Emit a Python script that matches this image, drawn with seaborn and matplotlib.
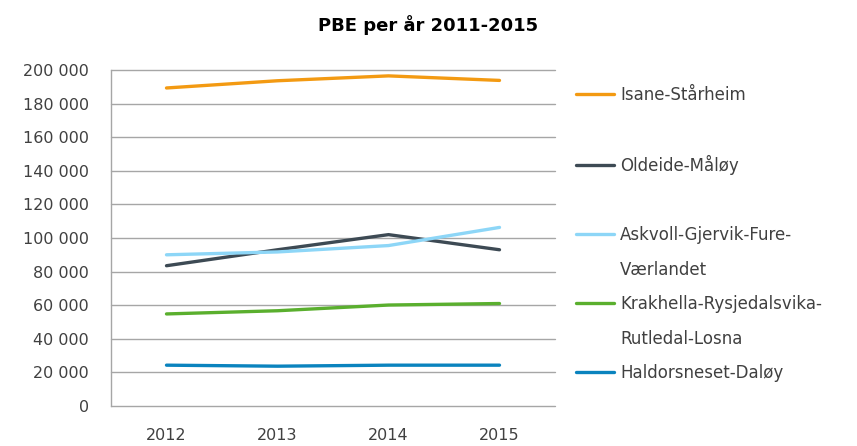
import matplotlib
matplotlib.use("Agg")
import matplotlib.pyplot as plt
import numpy as np
import pandas as pd
import seaborn as sns
from matplotlib.lines import Line2D
from matplotlib.ticker import FuncFormatter

# data
years = [2012, 2013, 2014, 2015]
routes = [
    "Isane-Stårheim",
    "Oldeide-Måløy",
    "Askvoll-Gjervik-Fure-Værlandet",
    "Krakhella-Rysjedalsvika-Rutledal-Losna",
    "Haldorsneset-Daløy",
]
isane = [189300, 193600, 196500, 193800]
oldeide = [83500, 93000, 102000, 93000]
askvoll = [90000, 91700, 95500, 106300]
krakhella = [54800, 56700, 60100, 61000]
haldorsneset = [24300, 23700, 24300, 24300]

colors = ["#F39A12", "#3D4A54", "#8DD6F7", "#5AAF2E", "#0A83BE"]

# legend text as wrapped in the reference
legend_rows = [
    ("Isane-Stårheim", 0),
    (" ", None),
    ("Oldeide-Måløy", 1),
    (" ", None),
    ("Askvoll-Gjervik-Fure-", 2),
    ("Værlandet", None),
    ("Krakhella-Rysjedalsvika-", 3),
    ("Rutledal-Losna", None),
    ("Haldorsneset-Daløy", 4),
]

#%%

df = pd.DataFrame({
    "year": np.tile(years, len(routes)),
    "route": np.repeat(routes, len(years)),
    "pbe": isane + oldeide + askvoll + krakhella + haldorsneset,
})

sns.set_theme(style="white")
plt.rcParams["font.family"] = ["DejaVu Sans"]
text_col = "#404040"
grid_col = "#A6A6A6"

fig = plt.figure(figsize=(8.57, 4.46), dpi=100)
ax = fig.add_axes([111 / 857, 40 / 446, 444 / 857, 336 / 446])

sns.lineplot(
    data=df, x="year", y="pbe", hue="route", hue_order=routes,
    palette=dict(zip(routes, colors)), linewidth=2.4, legend=False, ax=ax,
)

ax.set_xlim(2011.5, 2015.5)
ax.set_ylim(0, 200000)
ax.set_xticks(years)
ax.set_yticks(np.arange(0, 200001, 20000))
ax.yaxis.set_major_formatter(FuncFormatter(lambda v, _: f"{v:,.0f}".replace(",", " ")))
ax.grid(axis="y", color=grid_col, linewidth=1)
for gl in ax.get_ygridlines():
    gl.set_clip_on(False)
ax.set_axisbelow(True)
ax.tick_params(axis="x", length=0, pad=16, labelsize=11.5, labelcolor=text_col)
ax.tick_params(axis="y", length=0, pad=16, labelsize=11.5, labelcolor=text_col)
ax.set_xlabel("")
ax.set_ylabel("")
for side in ["top", "right", "bottom"]:
    ax.spines[side].set_visible(False)
ax.spines["left"].set_color(grid_col)
ax.spines["left"].set_linewidth(1)

fig.suptitle("PBE per år 2011-2015", x=0.5, y=1 - 25 / 446, va="center",
             fontsize=13, fontweight="bold", color="black")

handles, labels = [], []
for text, idx in legend_rows:
    if idx is None:
        handles.append(Line2D([], [], color="none"))
    else:
        handles.append(Line2D([], [], color=colors[idx], linewidth=2.4))
    labels.append(text)

fig.legend(
    handles, labels, loc="upper left",
    bbox_to_anchor=(576 / 857, 1 - 86 / 446), bbox_transform=fig.transFigure,
    frameon=False, fontsize=12, labelcolor=text_col, borderpad=0,
    borderaxespad=0, handlelength=2.3, handletextpad=0.35, labelspacing=0.99,
)

fig.savefig("out.png", dpi=100)
